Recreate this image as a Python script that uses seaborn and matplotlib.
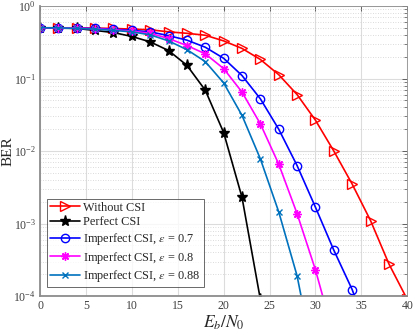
import numpy as np
import pandas as pd
import matplotlib
matplotlib.use("Agg")
import matplotlib.pyplot as plt
import seaborn as sns
from matplotlib.ticker import LogLocator, MultipleLocator, NullFormatter

sns.set_theme(style="white")
plt.rcParams['font.family'] = ['Liberation Serif', 'DejaVu Serif']
plt.rcParams['mathtext.fontset'] = 'stix'

snr = np.arange(0, 42, 2)

ber_without = [0.5, 0.5, 0.5, 0.495, 0.49, 0.48, 0.47, 0.44, 0.42, 0.395, 0.33,
               0.26, 0.183, 0.113, 0.06, 0.0266, 0.01, 0.0035, 0.0011, 2.78e-4, 9e-5]
ber_perfect = [0.5, 0.495, 0.49, 0.46, 0.43, 0.38, 0.32, 0.243, 0.152, 0.069, 0.018,
               0.0023, 9e-5]
ber_eps07 = [0.5, 0.5, 0.495, 0.49, 0.48, 0.46, 0.44, 0.39, 0.338, 0.27, 0.19, 0.11,
             0.0525, 0.02, 0.0063, 0.00168, 4.3e-4, 1.23e-4, 2.5e-5]
ber_eps08 = [0.5, 0.5, 0.495, 0.485, 0.47, 0.45, 0.42, 0.356, 0.285, 0.219, 0.137,
             0.065, 0.0237, 0.0066, 0.00137, 2.3e-4, 2.8e-5]
ber_eps088 = [0.5, 0.5, 0.49, 0.48, 0.46, 0.44, 0.40, 0.33, 0.25, 0.171, 0.087, 0.031,
              0.0078, 0.00145, 1.9e-4, 1e-5]

labels = ['Without CSI', 'Perfect CSI', r'Imperfect CSI, $\epsilon$ = 0.7',
          r'Imperfect CSI, $\epsilon$ = 0.8', r'Imperfect CSI, $\epsilon$ = 0.88']
series = [ber_without, ber_perfect, ber_eps07, ber_eps08, ber_eps088]
colors = ['#FF0000', '#000000', '#0000FF', '#FF00FF', '#0072BD']
markers = ['>', '*', 'o', (8, 2, 0), 'x']
msizes = [7, 8, 6, 6, 5]
mfc = ['none', 'black', 'none', '#FF00FF', '#0072BD']

fig = plt.figure(figsize=(4.15, 3.32), dpi=100)
ax = fig.add_axes([0.0964, 0.108, 0.885, 0.874])

for lab, vals, c, m, ms, fc in zip(labels, series, colors, markers, msizes, mfc):
    df = pd.DataFrame({'snr': snr[:len(vals)], 'ber': vals})
    sns.lineplot(data=df, x='snr', y='ber', ax=ax, color=c, marker=m,
                 markersize=ms, markerfacecolor=fc, markeredgecolor=c,
                 markeredgewidth=1.0, linewidth=1.2, label=lab)

ax.set_yscale('log')
ax.set_xlim(0, 40)
ax.set_ylim(1e-4, 1)
ax.xaxis.set_major_locator(MultipleLocator(5))
ax.yaxis.set_major_locator(LogLocator(base=10, numticks=10))
ax.yaxis.set_minor_locator(LogLocator(base=10, subs=np.arange(2, 10), numticks=20))
ax.yaxis.set_minor_formatter(NullFormatter())

ax.grid(True, which='major', color='#DCDCDC', linewidth=0.8, linestyle='-')
ax.yaxis.grid(True, which='minor', color='#CFCFCF', linewidth=0.6, linestyle=(0, (1, 2)))
ax.set_axisbelow(True)

for name, s in ax.spines.items():
    s.set_color('#8C8C8C')
    s.set_linewidth(1.3 if name in ('left', 'bottom') else 0.6)
    s.set_visible(True)

ax.tick_params(axis='both', which='both', direction='in', colors='#4D4D4D',
               labelsize=8.5, top=True, right=True, labelcolor='#404040', pad=3)
ax.tick_params(which='major', length=3.5, width=0.6)
ax.tick_params(which='minor', length=2, width=0.5)

ax.set_xlabel(r'$E_b/N_0$', fontsize=12.5, labelpad=1)
ax.set_ylabel('BER', fontsize=11)
ax.yaxis.set_label_coords(-0.069, 0.5)

leg = ax.legend(loc='lower left', bbox_to_anchor=(0.018, 0.03), fontsize=8.8,
                frameon=True, fancybox=False, edgecolor='#262626',
                handlelength=2.5, handletextpad=0.25, borderpad=0.25,
                labelspacing=0.22, borderaxespad=0.0)
leg.get_frame().set_linewidth(0.6)

fig.savefig('out.png', dpi=100)
